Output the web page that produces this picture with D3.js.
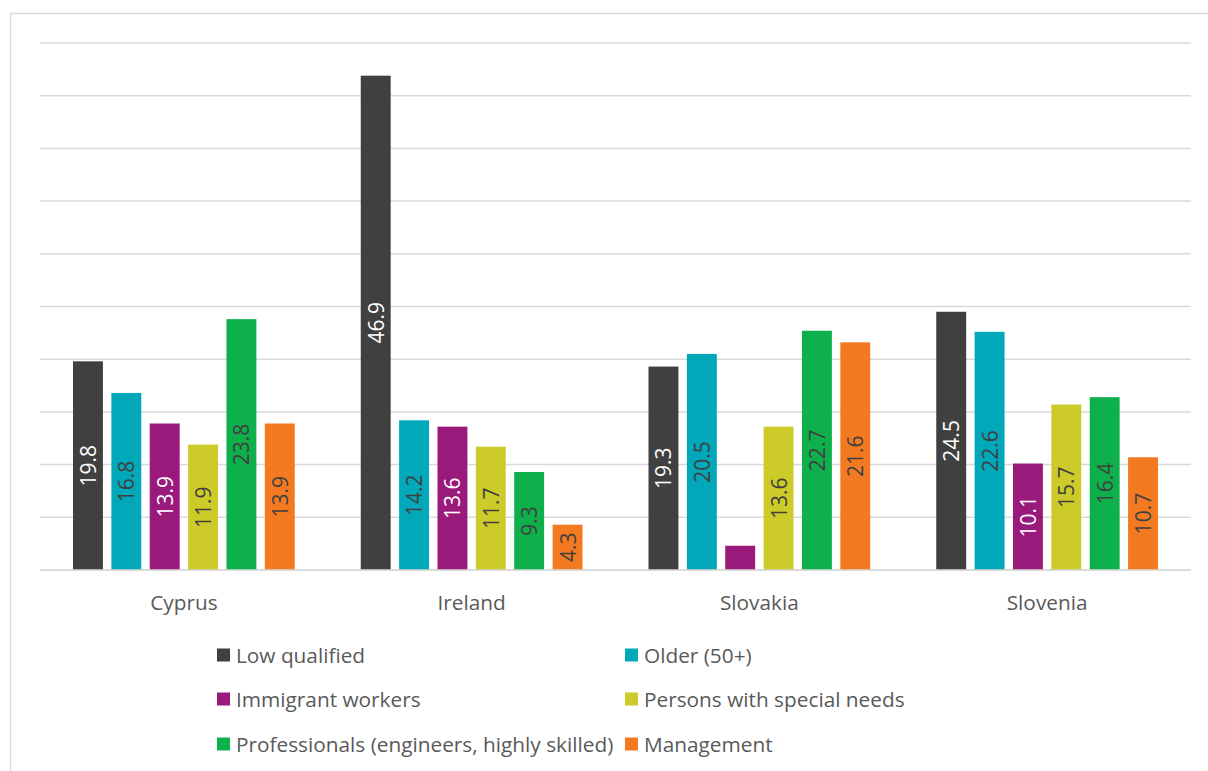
<!DOCTYPE html>
<html>
<head>
<meta charset="utf-8">
<script src="https://cdn.jsdelivr.net/npm/d3@7"></script>
<style>
  html, body { margin: 0; padding: 0; background: #fff; }
  svg { display: block; }
</style>
</head>
<body>
<svg id="chart" width="1208" height="771"></svg>
<script>
// Countries and target groups
const countries = ["Cyprus", "Ireland", "Slovakia", "Slovenia"];
const groups = [
  "Low qualified",
  "Older (50+)",
  "Immigrant workers",
  "Persons with special needs",
  "Professionals (engineers, highly skilled)",
  "Management"
];

// Share per group, one array per country (same order as groups)
const cyprus   = [19.8, 16.8, 13.9, 11.9, 23.8, 13.9];
const ireland  = [46.9, 14.2, 13.6, 11.7, 9.3, 4.3];
const slovakia = [19.3, 20.5, 2.3, 13.6, 22.7, 21.6];
const slovenia = [24.5, 22.6, 10.1, 15.7, 16.4, 10.7];

const yTicks = [0, 5, 10, 15, 20, 25, 30, 35, 40, 45, 50];

// Bar labels hidden where the bar is too short to hold them
const hiddenLabels = [{ country: "Slovakia", group: "Immigrant workers" }];

const colors = ["#404041", "#00a8ba", "#9a1a7b", "#cccb29", "#0eb04b", "#f47a22"];
const labelColors = ["#ffffff", "#404040", "#ffffff", "#404040", "#404040", "#404040"];

const rows = [cyprus, ireland, slovakia, slovenia];
const data = countries.map((c, i) => ({
  country: c,
  values: groups.map((g, j) => ({ group: g, gi: j, value: rows[i][j] }))
}));

const svg = d3.select("#chart");
const font = "'Open Sans', 'Noto Sans', sans-serif";

// Outer frame
svg.append("rect")
  .attr("x", 10.5).attr("y", 13.5)
  .attr("width", 1230).attr("height", 800)
  .attr("fill", "none").attr("stroke", "#d9d9d9").attr("stroke-width", 1.5);

const plot = { left: 40, right: 1191, top: 43, bottom: 570 };

const y = d3.scaleLinear().domain([0, 50]).range([plot.bottom, plot.top]);
const x0 = d3.scaleBand().domain(countries).range([plot.left, plot.right]).padding(0);
const groupMargin = 33;
const x1 = d3.scaleBand().domain(groups)
  .range([groupMargin, x0.bandwidth() - groupMargin])
  .paddingInner(0.22).paddingOuter(0);

// Horizontal gridlines
svg.append("g")
  .selectAll("line")
  .data(yTicks)
  .join("line")
  .attr("x1", plot.left).attr("x2", plot.right)
  .attr("y1", d => y(d)).attr("y2", d => y(d))
  .attr("stroke", "#d9d9d9").attr("stroke-width", 1.5);

// Bars
const groupsSel = svg.append("g")
  .selectAll("g")
  .data(data)
  .join("g")
  .attr("transform", d => `translate(${x0(d.country)},0)`);

groupsSel.selectAll("rect")
  .data(d => d.values)
  .join("rect")
  .attr("x", d => x1(d.group))
  .attr("y", d => y(d.value))
  .attr("width", x1.bandwidth())
  .attr("height", d => y(0) - y(d.value))
  .attr("fill", d => colors[d.gi]);

// Value labels, rotated and centred inside each bar
groupsSel.selectAll("text")
  .data(d => d.values.map(v => ({ ...v, country: d.country }))
    .filter(v => !hiddenLabels.some(h => h.country === v.country && h.group === v.group)))
  .join("text")
  .attr("transform", d => {
    const cx = x1(d.group) + x1.bandwidth() / 2;
    const cy = (y(d.value) + y(0)) / 2;
    return `translate(${cx},${cy}) rotate(-90)`;
  })
  .attr("text-anchor", "middle")
  .attr("dominant-baseline", "central")
  .attr("font-family", font)
  .attr("font-size", 21)
  .attr("fill", d => labelColors[d.gi])
  .text(d => d.value.toFixed(1));

// Baseline
svg.append("line")
  .attr("x1", plot.left).attr("x2", plot.right)
  .attr("y1", y(0)).attr("y2", y(0))
  .attr("stroke", "#d9d9d9").attr("stroke-width", 1.5);

// Category axis labels
svg.append("g")
  .selectAll("text")
  .data(countries)
  .join("text")
  .attr("x", d => x0(d) + x0.bandwidth() / 2)
  .attr("y", 602)
  .attr("text-anchor", "middle")
  .attr("dominant-baseline", "central")
  .attr("font-family", font)
  .attr("font-size", 20.8)
  .attr("fill", "#595959")
  .text(d => d);

// Legend: two columns, three rows
const legendCols = [217, 625];
const legendRows = [655, 699, 744];
const legend = svg.append("g")
  .selectAll("g")
  .data(groups)
  .join("g")
  .attr("transform", (d, i) => `translate(${legendCols[i % 2]},${legendRows[Math.floor(i / 2)]})`);

legend.append("rect")
  .attr("x", 0).attr("y", -6.5)
  .attr("width", 13).attr("height", 13)
  .attr("fill", (d, i) => colors[i]);

legend.append("text")
  .attr("x", 19).attr("y", 0)
  .attr("dominant-baseline", "central")
  .attr("font-family", font)
  .attr("font-size", 20.8)
  .attr("fill", "#595959")
  .text(d => d);
</script>
</body>
</html>
